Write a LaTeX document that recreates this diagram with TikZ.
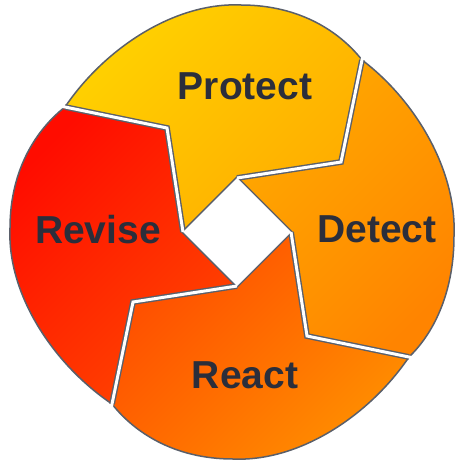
\documentclass[tikz,border=0pt]{standalone}
\usepackage{fontspec}
\setmainfont{Liberation Sans}
\definecolor{edge}{HTML}{5A5F6A}
\definecolor{txt}{HTML}{2B2E3B}
\definecolor{pA}{HTML}{FFD200}
\definecolor{pB}{HTML}{FFAC00}
\definecolor{dA}{HTML}{FFAA00}
\definecolor{dB}{HTML}{FF8400}
\definecolor{rA}{HTML}{FF4C00}
\definecolor{rB}{HTML}{FF8E00}
\definecolor{vA}{HTML}{FF0C00}
\definecolor{vB}{HTML}{FF4600}
\begin{document}
\begin{tikzpicture}[x=1pt,y=-1pt,
  piece/.style={draw=edge, line width=1.5pt, line join=round},
  lbl/.style={font=\bfseries\fontsize{39}{39}\selectfont, text=txt, anchor=base, inner sep=0pt},
  seamgray/.style={draw=edge, line width=5.8pt, line join=miter},
  seamwhite/.style={draw=white, line width=3pt, line join=miter, shorten >=-3pt},
  hole/.style={fill=white}]
\useasboundingbox (0,0) rectangle (455,460);
\begin{scope}[shift={(237,232)}]
  \coordinate (T) at (0,-54);
  \coordinate (R) at (54,0);
  \coordinate (B) at (0,54);
  \coordinate (L) at (-54,0);
  \coordinate (KT) at (104,-70);
  \coordinate (KR) at (70,104);
  \coordinate (KB) at (-104,70);
  \coordinate (KL) at (-70,-104);
  \coordinate (OT) at (125,-172);
  \coordinate (OR) at (172,125);
  \coordinate (OB) at (-125,172);
  \coordinate (OL) at (-172,-125);
  % pieces
  \path[piece, top color=pA, bottom color=pB, shading angle=45]
    (OL) .. controls (-132,-184) and (-62,-230) .. (4,-227)
         .. controls (63,-227) and (103,-200) .. (OT)
    -- (KT) -- (T) -- (L) -- (KL) -- cycle;
  \path[piece, top color=dA, bottom color=dB, shading angle=45]
    (OT) .. controls (178,-132) and (220,-62) .. (217,4)
         .. controls (217,63) and (195,103) .. (OR)
    -- (KR) -- (R) -- (T) -- (KT) -- cycle;
  \path[piece, top color=rA, bottom color=rB, shading angle=45]
    (OR) .. controls (132,184) and (62,230) .. (-4,227)
         .. controls (-63,227) and (-103,200) .. (OB)
    -- (KB) -- (B) -- (R) -- (KR) -- cycle;
  \path[piece, top color=vA, bottom color=vB, shading angle=45]
    (OB) .. controls (-184,132) and (-230,62) .. (-227,-4)
         .. controls (-227,-63) and (-200,-103) .. (OL)
    -- (KL) -- (L) -- (B) -- (KB) -- cycle;
  % centre hole outline and seams
  \draw[draw=edge, line width=3pt, line join=miter] (T) -- (R) -- (B) -- (L) -- cycle;
  \draw[seamgray] (T) -- (KT) -- (OT);
  \draw[seamgray] (R) -- (KR) -- (OR);
  \draw[seamgray] (B) -- (KB) -- (OB);
  \draw[seamgray] (L) -- (KL) -- (OL);
  \path[hole] (T) -- (R) -- (B) -- (L) -- cycle;
  \draw[seamwhite] (T) -- (KT) -- (OT);
  \draw[seamwhite] (R) -- (KR) -- (OR);
  \draw[seamwhite] (B) -- (KB) -- (OB);
  \draw[seamwhite] (L) -- (KL) -- (OL);
\end{scope}
\node[lbl] (protect) at (245,99) {Protect};
\node[lbl] (detect) at (377,242) {Detect};
\node[lbl] (react) at (245,388) {React};
\node[lbl] (revise) at (98,243) {Revise};
\end{tikzpicture}
\end{document}
